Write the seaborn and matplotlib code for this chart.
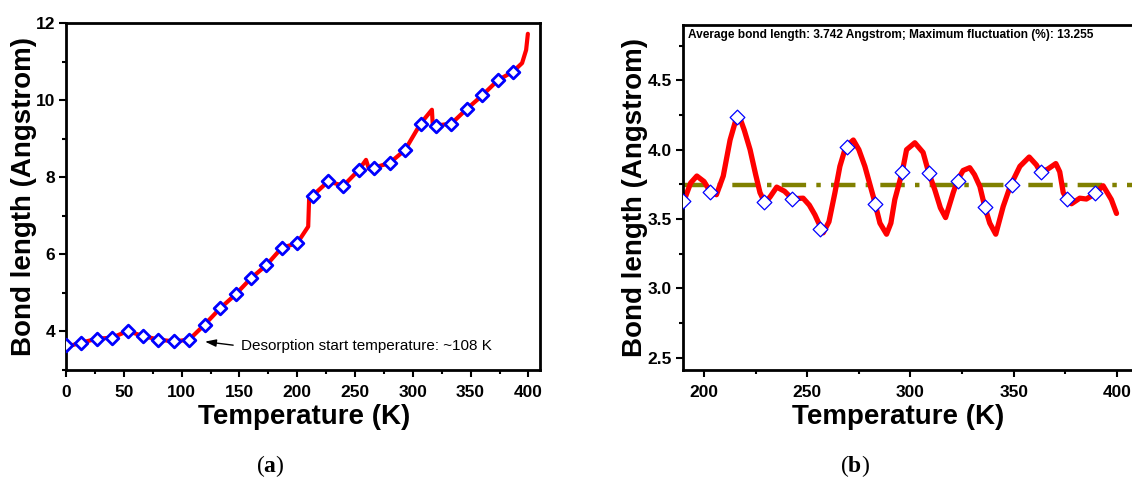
import matplotlib
matplotlib.use("Agg")
import seaborn as sns
import matplotlib.pyplot as plt
from matplotlib.ticker import MultipleLocator

# ---- (a) bond length over the whole run, 0-400 K ----
temp_a = [0, 13.33, 26.67, 40, 53.33, 66.67, 80, 93.33, 106.67, 120, 133.33,
          146.67, 160, 173.33, 186.67, 200, 209.5, 210.3, 213.33, 226.67, 240,
          253.33, 259.5, 262, 266.67, 280, 293.33, 306.67, 316.5, 317.2, 320,
          333.33, 346.67, 360, 373.33, 386.67, 394.5, 398, 399.5]
bond_a = [3.60, 3.71, 3.81, 3.84, 4.01, 3.88, 3.79, 3.74, 3.79, 4.18, 4.60,
          4.96, 5.38, 5.72, 6.17, 6.29, 6.72, 7.45, 7.52, 7.89, 7.78,
          8.19, 8.45, 8.22, 8.25, 8.37, 8.71, 9.39, 9.75, 9.38, 9.34,
          9.39, 9.77, 10.12, 10.51, 10.74, 10.96, 11.30, 11.72]

# sampled points (diamonds)
temp_a_pts = [0, 13.33, 26.67, 40, 53.33, 66.67, 80, 93.33, 106.67, 120,
              133.33, 146.67, 160, 173.33, 186.67, 200, 213.33, 226.67, 240,
              253.33, 266.67, 280, 293.33, 306.67, 320, 333.33, 346.67, 360,
              373.33, 386.67]
bond_a_pts = [3.64, 3.71, 3.81, 3.84, 4.01, 3.88, 3.79, 3.74, 3.79, 4.18,
              4.60, 4.96, 5.38, 5.72, 6.17, 6.29, 7.52, 7.89, 7.78,
              8.19, 8.25, 8.37, 8.71, 9.39, 9.34, 9.39, 9.77, 10.12,
              10.51, 10.74]

# ---- (b) bond length, 190-400 K ----
temp_b = [190, 193.5, 196.5, 200, 202.9, 206, 209.3, 212.6, 215.5, 217.1,
          219.5, 222.3, 225, 227.1, 229.5, 232, 235.2, 239, 242.7, 248,
          251, 253.7, 257.7, 260.5, 263.4, 265.8, 268.6, 272.3, 275, 277.9,
          282, 285.2, 288.4, 290.5, 292.4, 296, 298.1, 302.1, 306.1, 308.9,
          311.8, 314.5, 317, 320.7, 322.8, 325.5, 328.7, 331, 333.6, 336,
          338.4, 341.3, 344.9, 348.4, 353, 357.5, 361, 363, 366.5, 370.4,
          372.3, 374, 375.8, 378, 382, 385.2, 389.2, 393.3, 397.3, 399.8]
bond_b = [3.62, 3.76, 3.81, 3.77, 3.70, 3.675, 3.81, 4.07, 4.22, 4.24,
          4.14, 4.00, 3.82, 3.69, 3.615, 3.66, 3.73, 3.70, 3.646, 3.65,
          3.60, 3.53, 3.40, 3.48, 3.69, 3.88, 4.02, 4.07, 4.00, 3.88,
          3.66, 3.47, 3.39, 3.47, 3.64, 3.84, 4.00, 4.05, 3.98, 3.83,
          3.71, 3.58, 3.51, 3.69, 3.78, 3.85, 3.87, 3.82, 3.735, 3.587,
          3.47, 3.39, 3.59, 3.74, 3.88, 3.947, 3.89, 3.836, 3.86, 3.90,
          3.84, 3.69, 3.644, 3.61, 3.65, 3.644, 3.68, 3.74, 3.64, 3.54]

temp_b_pts = [190, 202.9, 216, 229, 242.7, 256, 269.2, 282.8, 296, 309.2,
              323, 336, 349, 363, 376, 389.2]
bond_b_pts = [3.63, 3.695, 4.236, 3.62, 3.646, 3.43, 4.017, 3.61, 3.84, 3.83,
              3.775, 3.587, 3.745, 3.838, 3.644, 3.685]

avg_bond = 3.742
note_b = "Average bond length: 3.742 Angstrom; Maximum fluctuation (%): 13.255"

sns.set_style("ticks")
plt.rcParams["font.family"] = ["Liberation Sans", "DejaVu Sans"]
plt.rcParams["font.weight"] = "bold"
plt.rcParams["axes.linewidth"] = 2
plt.rcParams["axes.edgecolor"] = "black"
for key in ["text.color", "axes.labelcolor", "xtick.color", "ytick.color"]:
    plt.rcParams[key] = "black"
plt.rcParams["mathtext.fontset"] = "custom"
plt.rcParams["mathtext.rm"] = "Liberation Serif"
plt.rcParams["mathtext.bf"] = "Liberation Serif:bold"

fig = plt.figure(figsize=(11.32, 4.88), dpi=100)
ax1 = fig.add_axes([66 / 1132, 1 - 370 / 488, 474 / 1132, 347 / 488])
ax2 = fig.add_axes([683 / 1132, 1 - 370 / 488, 449 / 1132, 345 / 488])

# (a)
sns.lineplot(x=temp_a, y=bond_a, ax=ax1, color="red", lw=3,
             estimator=None, sort=False, zorder=2)
sns.scatterplot(x=temp_a_pts, y=bond_a_pts, ax=ax1, marker="D", s=42,
                color="white", edgecolor="blue", linewidth=2.0, zorder=3)
ax1.set_xlim(0, 410)
ax1.set_ylim(3, 12)
ax1.xaxis.set_major_locator(MultipleLocator(50))
ax1.xaxis.set_minor_locator(MultipleLocator(25))
ax1.yaxis.set_major_locator(MultipleLocator(2))
ax1.yaxis.set_minor_locator(MultipleLocator(1))
ax1.annotate("Desorption start temperature: ~108 K", xy=(119, 3.74),
             xytext=(151, 3.62), fontsize=11, fontweight="normal",
             ha="left", va="center",
             arrowprops=dict(arrowstyle="-|>,head_length=0.6,head_width=0.2",
                             color="black", lw=1, relpos=(0, 0.5),
                             shrinkA=3, shrinkB=1))

# (b)
ax2.axhline(avg_bond, color="#808000", lw=3.2, dashes=(5.5, 2.3, 1, 2.3),
            zorder=1)
sns.lineplot(x=temp_b, y=bond_b, ax=ax2, color="red", lw=3.8,
             estimator=None, sort=False, zorder=2)
sns.scatterplot(x=temp_b_pts, y=bond_b_pts, ax=ax2, marker="D", s=56,
                color="white", edgecolor="blue", linewidth=0.9, zorder=3)
ax2.set_xlim(189.8, 407.3)
ax2.set_ylim(2.41, 4.90)
ax2.xaxis.set_major_locator(MultipleLocator(50))
ax2.xaxis.set_minor_locator(MultipleLocator(25))
ax2.yaxis.set_major_locator(MultipleLocator(0.5))
ax2.yaxis.set_minor_locator(MultipleLocator(0.25))
ax2.spines["right"].set_visible(False)
ax2.text(0.011, 0.971, note_b, transform=ax2.transAxes, fontsize=8.6,
         fontweight="bold", ha="left", va="center")

for ax, ylx, xlx in [(ax1, -0.088, 0.502), (ax2, -0.108, 0.479)]:
    for sp in ax.spines.values():
        sp.set_linewidth(2)
    ax.tick_params(which="major", direction="out", length=5, width=1.5,
                   labelsize=12.5, top=False, right=False)
    ax.tick_params(which="minor", direction="out", length=3, width=1.5,
                   top=False, right=False)
    ax.tick_params(axis="x", which="major", pad=6)
    ax.tick_params(axis="y", which="major", pad=3)
    ax.set_xlabel("Temperature (K)", fontsize=20, fontweight="bold", va="center")
    ax.set_ylabel("Bond length (Angstrom)", fontsize=20, fontweight="bold",
                  va="center")
    ax.xaxis.set_label_coords(xlx, -0.135)
    ax.yaxis.set_label_coords(ylx, 0.50)

fig.text(270 / 1132, 1 - 466 / 488, r"($\mathbf{a}$)", fontsize=17,
         family="Liberation Serif", fontweight="normal", ha="center", va="center")
fig.text(855 / 1132, 1 - 466 / 488, r"($\mathbf{b}$)", fontsize=17,
         family="Liberation Serif", fontweight="normal", ha="center", va="center")

fig.savefig("out.png", dpi=100)
